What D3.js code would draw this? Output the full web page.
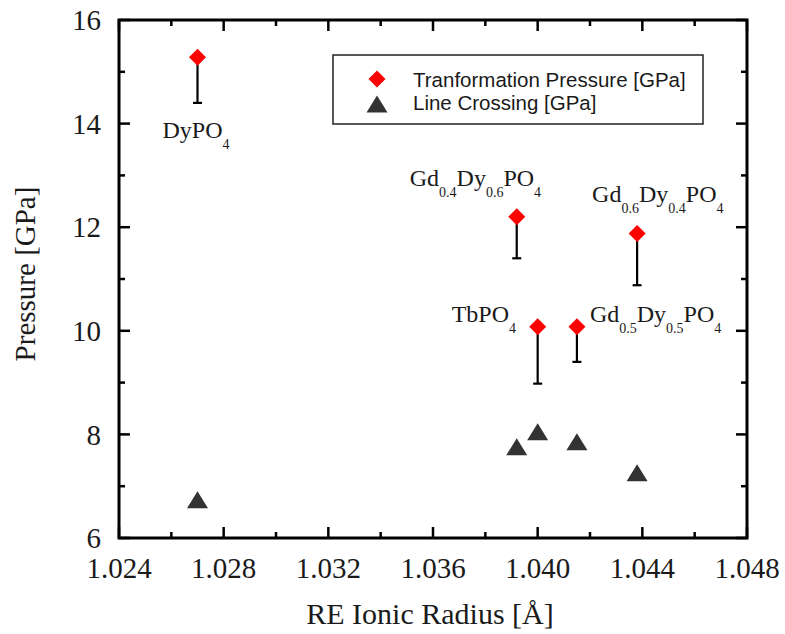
<!DOCTYPE html>
<html>
<head>
<meta charset="utf-8">
<script src="https://cdn.jsdelivr.net/npm/d3@7"></script>
<style>
  html, body { margin: 0; padding: 0; background: #fff; }
  svg { display: block; }
</style>
</head>
<body>
<svg id="chart" width="785" height="634"></svg>
<script>
// Compounds and their rare-earth ionic radius (Å)
const compounds = ["DyPO4", "Gd0.4Dy0.6PO4", "TbPO4", "Gd0.5Dy0.5PO4", "Gd0.6Dy0.4PO4"];
const radius = [1.0270, 1.0392, 1.0400, 1.0415, 1.0438];
// Transformation pressure (GPa) and lower end of its error bar
const transPressure = [15.28, 12.20, 10.08, 10.08, 11.88];
const transLower = [14.40, 11.40, 8.98, 9.40, 10.88];
// Line-crossing pressure (GPa)
const crossing = [6.74, 7.76, 8.05, 7.86, 7.26];

// Axis ticks
const xMajor = [1.024, 1.028, 1.032, 1.036, 1.040, 1.044, 1.048];
const xMinor = [1.026, 1.030, 1.034, 1.038, 1.042, 1.046];
const yMajor = [6, 8, 10, 12, 14, 16];
const yMinor = [7, 9, 11, 13, 15];

// Formula labels: [text, subscript] parts
const labelParts = [
  [["DyPO", false], ["4", true]],
  [["Gd", false], ["0.4", true], ["Dy", false], ["0.6", true], ["PO", false], ["4", true]],
  [["TbPO", false], ["4", true]],
  [["Gd", false], ["0.5", true], ["Dy", false], ["0.5", true], ["PO", false], ["4", true]],
  [["Gd", false], ["0.6", true], ["Dy", false], ["0.4", true], ["PO", false], ["4", true]]
];
const labelOffset = [[-35, 81], [-107, -31], [-86, -5], [13, -5], [-45, -31]];

const legendItems = ["Tranformation Pressure [GPa]", "Line Crossing [GPa]"];

const svg = d3.select("#chart");
const m = { left: 119, right: 747, top: 20, bottom: 538 };

const x = d3.scaleLinear().domain([1.024, 1.048]).range([m.left, m.right]);
const y = d3.scaleLinear().domain([6, 16]).range([m.bottom, m.top]);

const serif = "'Liberation Serif', 'Times New Roman', serif";
const sans = "'Liberation Sans', Arial, sans-serif";
const ink = "#1a1a1a";

// Ticks (inward on all four sides)
const tickG = svg.append("g").attr("stroke", "#000").attr("stroke-width", 2.5);
const major = 11, minor = 6;
xMajor.forEach(v => {
  tickG.append("line").attr("x1", x(v)).attr("x2", x(v)).attr("y1", m.bottom).attr("y2", m.bottom - major);
  tickG.append("line").attr("x1", x(v)).attr("x2", x(v)).attr("y1", m.top).attr("y2", m.top + major);
});
xMinor.forEach(v => {
  tickG.append("line").attr("x1", x(v)).attr("x2", x(v)).attr("y1", m.bottom).attr("y2", m.bottom - minor);
  tickG.append("line").attr("x1", x(v)).attr("x2", x(v)).attr("y1", m.top).attr("y2", m.top + minor);
});
yMajor.forEach(v => {
  tickG.append("line").attr("y1", y(v)).attr("y2", y(v)).attr("x1", m.left).attr("x2", m.left + major);
  tickG.append("line").attr("y1", y(v)).attr("y2", y(v)).attr("x1", m.right).attr("x2", m.right - major);
});
yMinor.forEach(v => {
  tickG.append("line").attr("y1", y(v)).attr("y2", y(v)).attr("x1", m.left).attr("x2", m.left + minor);
  tickG.append("line").attr("y1", y(v)).attr("y2", y(v)).attr("x1", m.right).attr("x2", m.right - minor);
});

// Frame
svg.append("rect")
  .attr("x", m.left).attr("y", m.top)
  .attr("width", m.right - m.left).attr("height", m.bottom - m.top)
  .attr("fill", "none").attr("stroke", "#000").attr("stroke-width", 3);

// Tick labels
svg.append("g").selectAll("text").data(xMajor).join("text")
  .attr("x", d => x(d)).attr("y", 578)
  .attr("text-anchor", "middle")
  .attr("font-family", serif).attr("font-size", 29).attr("fill", ink)
  .text(d => d3.format(".3f")(d));
svg.append("g").selectAll("text").data(yMajor).join("text")
  .attr("x", 101).attr("y", d => y(d))
  .attr("dy", "0.35em")
  .attr("text-anchor", "end")
  .attr("font-family", serif).attr("font-size", 29).attr("fill", ink)
  .text(d => d);

// Axis titles
svg.append("text")
  .attr("x", 430).attr("y", 624)
  .attr("text-anchor", "middle")
  .attr("font-family", serif).attr("font-size", 30).attr("fill", ink)
  .text("RE Ionic Radius [Å]");
svg.append("text")
  .attr("transform", "translate(35,274) rotate(-90)")
  .attr("text-anchor", "middle")
  .attr("font-family", serif).attr("font-size", 29).attr("fill", ink)
  .text("Pressure [GPa]");

// Lower error bars for transformation pressure
const errG = svg.append("g").attr("stroke", "#000").attr("stroke-width", 2.2);
radius.forEach((r, i) => {
  errG.append("line").attr("x1", x(r)).attr("x2", x(r))
    .attr("y1", y(transPressure[i])).attr("y2", y(transLower[i]));
  errG.append("line").attr("x1", x(r) - 4.5).attr("x2", x(r) + 4.5)
    .attr("y1", y(transLower[i])).attr("y2", y(transLower[i]));
});

const diamond = (cx, cy, h) => `M${cx},${cy - h}L${cx + h},${cy}L${cx},${cy + h}L${cx - h},${cy}Z`;
const triangle = (cx, cy, w, h) => `M${cx},${cy - h / 2}L${cx + w / 2},${cy + h / 2}L${cx - w / 2},${cy + h / 2}Z`;

// Line crossing markers
svg.append("g").selectAll("path").data(radius).join("path")
  .attr("d", (r, i) => triangle(x(r), y(crossing[i]), 21, 17))
  .attr("fill", "#333");

// Transformation pressure markers
svg.append("g").selectAll("path").data(radius).join("path")
  .attr("d", (r, i) => diamond(x(r), y(transPressure[i]), 8.5))
  .attr("fill", "#ff0000");

// Formula labels
const labG = svg.append("g").attr("font-family", serif).attr("fill", ink);
labelParts.forEach((parts, i) => {
  const t = labG.append("text")
    .attr("x", x(radius[i]) + labelOffset[i][0])
    .attr("y", y(transPressure[i]) + labelOffset[i][1])
    .attr("font-size", 24);
  let down = false;
  parts.forEach(([s, sub]) => {
    const ts = t.append("tspan").text(s);
    if (sub && !down) { ts.attr("dy", 11).attr("font-size", 14); down = true; }
    else if (sub) { ts.attr("font-size", 14); }
    else if (down) { ts.attr("dy", -11); down = false; }
  });
});

// Legend
const lg = svg.append("g");
lg.append("rect").attr("x", 333).attr("y", 55).attr("width", 370).attr("height", 69)
  .attr("fill", "#fff").attr("stroke", "#222").attr("stroke-width", 1.5);
lg.append("path").attr("d", diamond(377, 79, 8.5)).attr("fill", "#ff0000");
lg.append("path").attr("d", triangle(377, 104, 21, 17)).attr("fill", "#333");
lg.selectAll("text.item").data(legendItems).join("text")
  .attr("class", "item")
  .attr("x", 413).attr("y", (d, i) => 86.5 + i * 23.5)
  .attr("font-family", sans).attr("font-size", 20.5).attr("fill", ink)
  .text(d => d);
</script>
</body>
</html>
